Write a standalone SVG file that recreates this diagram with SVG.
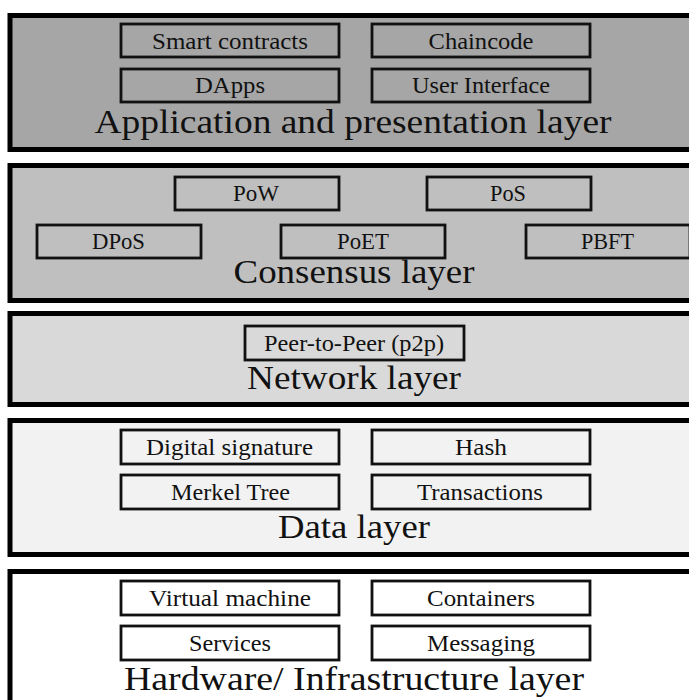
<svg xmlns="http://www.w3.org/2000/svg" width="689" height="700" viewBox="0 0 689 700">
<style>
.layer{stroke:#000;stroke-width:5}
.box{fill:none;stroke:#111;stroke-width:2.8}
.bt{font-family:"Liberation Serif","Times New Roman",serif;font-size:23px;fill:#111;text-anchor:middle}
.tt{font-family:"Liberation Serif","Times New Roman",serif;font-size:33px;fill:#111;text-anchor:middle}
</style>
<rect width="689" height="700" fill="#fff"/>
<g id="application-layer">
<rect class="layer" x="10" y="15.5" width="700" height="134" fill="#a6a6a6"/>
<g id="smart-contracts"><rect class="box" x="121" y="24" width="218" height="33"/><text class="bt" x="230" y="48.5" textLength="156" lengthAdjust="spacingAndGlyphs">Smart contracts</text></g>
<g id="chaincode"><rect class="box" x="372" y="24" width="218" height="33"/><text class="bt" x="481" y="48.5" textLength="105" lengthAdjust="spacingAndGlyphs">Chaincode</text></g>
<g id="dapps"><rect class="box" x="121" y="69" width="218" height="33"/><text class="bt" x="230" y="93" textLength="70" lengthAdjust="spacingAndGlyphs">DApps</text></g>
<g id="user-interface"><rect class="box" x="372" y="69" width="218" height="33"/><text class="bt" x="481" y="93" textLength="138" lengthAdjust="spacingAndGlyphs">User Interface</text></g>
<text class="tt" x="353" y="133" textLength="517" lengthAdjust="spacingAndGlyphs">Application and presentation layer</text>
</g>
<g id="consensus-layer">
<rect class="layer" x="10" y="165.5" width="700" height="135" fill="#bfbfbf"/>
<g id="pow"><rect class="box" x="175" y="177" width="164" height="33"/><text class="bt" x="256" y="201" textLength="46" lengthAdjust="spacingAndGlyphs">PoW</text></g>
<g id="pos"><rect class="box" x="427" y="177" width="164" height="33"/><text class="bt" x="508" y="201" textLength="36" lengthAdjust="spacingAndGlyphs">PoS</text></g>
<g id="dpos"><rect class="box" x="37" y="225" width="164" height="33"/><text class="bt" x="118.5" y="249" textLength="53" lengthAdjust="spacingAndGlyphs">DPoS</text></g>
<g id="poet"><rect class="box" x="281" y="225" width="164" height="33"/><text class="bt" x="363" y="249" textLength="52" lengthAdjust="spacingAndGlyphs">PoET</text></g>
<g id="pbft"><rect class="box" x="526" y="225" width="164" height="33"/><text class="bt" x="607.5" y="249" textLength="53" lengthAdjust="spacingAndGlyphs">PBFT</text></g>
<text class="tt" x="354" y="283" textLength="241" lengthAdjust="spacingAndGlyphs">Consensus layer</text>
</g>
<g id="network-layer">
<rect class="layer" x="10" y="313.5" width="700" height="91" fill="#d9d9d9"/>
<g id="p2p"><rect class="box" x="245" y="326" width="219" height="34"/><text class="bt" x="354" y="350.5" textLength="180" lengthAdjust="spacingAndGlyphs">Peer-to-Peer (p2p)</text></g>
<text class="tt" x="354" y="389" textLength="214" lengthAdjust="spacingAndGlyphs">Network layer</text>
</g>
<g id="data-layer">
<rect class="layer" x="10" y="420.5" width="700" height="134" fill="#f2f2f2"/>
<g id="digital-signature"><rect class="box" x="121" y="430" width="218" height="34"/><text class="bt" x="229.5" y="455" textLength="167" lengthAdjust="spacingAndGlyphs">Digital signature</text></g>
<g id="hash"><rect class="box" x="372" y="430" width="218" height="34"/><text class="bt" x="481" y="455" textLength="52" lengthAdjust="spacingAndGlyphs">Hash</text></g>
<g id="merkel-tree"><rect class="box" x="121" y="475" width="218" height="34"/><text class="bt" x="230.5" y="500" textLength="119" lengthAdjust="spacingAndGlyphs">Merkel Tree</text></g>
<g id="transactions"><rect class="box" x="372" y="475" width="218" height="34"/><text class="bt" x="480" y="500" textLength="126" lengthAdjust="spacingAndGlyphs">Transactions</text></g>
<text class="tt" x="354" y="538" textLength="152" lengthAdjust="spacingAndGlyphs">Data layer</text>
</g>
<g id="hardware-layer">
<rect class="layer" x="10" y="571.5" width="700" height="200" fill="#ffffff"/>
<g id="virtual-machine"><rect class="box" x="121" y="581" width="218" height="34"/><text class="bt" x="230" y="606" textLength="162" lengthAdjust="spacingAndGlyphs">Virtual machine</text></g>
<g id="containers"><rect class="box" x="372" y="581" width="218" height="34"/><text class="bt" x="481" y="606" textLength="108" lengthAdjust="spacingAndGlyphs">Containers</text></g>
<g id="services"><rect class="box" x="121" y="626" width="218" height="34"/><text class="bt" x="230" y="651" textLength="82" lengthAdjust="spacingAndGlyphs">Services</text></g>
<g id="messaging"><rect class="box" x="372" y="626" width="218" height="34"/><text class="bt" x="481" y="651" textLength="108" lengthAdjust="spacingAndGlyphs">Messaging</text></g>
<text class="tt" x="354" y="690" textLength="460" lengthAdjust="spacingAndGlyphs">Hardware/ Infrastructure layer</text>
</g>
<g id="connectors"></g>
</svg>
